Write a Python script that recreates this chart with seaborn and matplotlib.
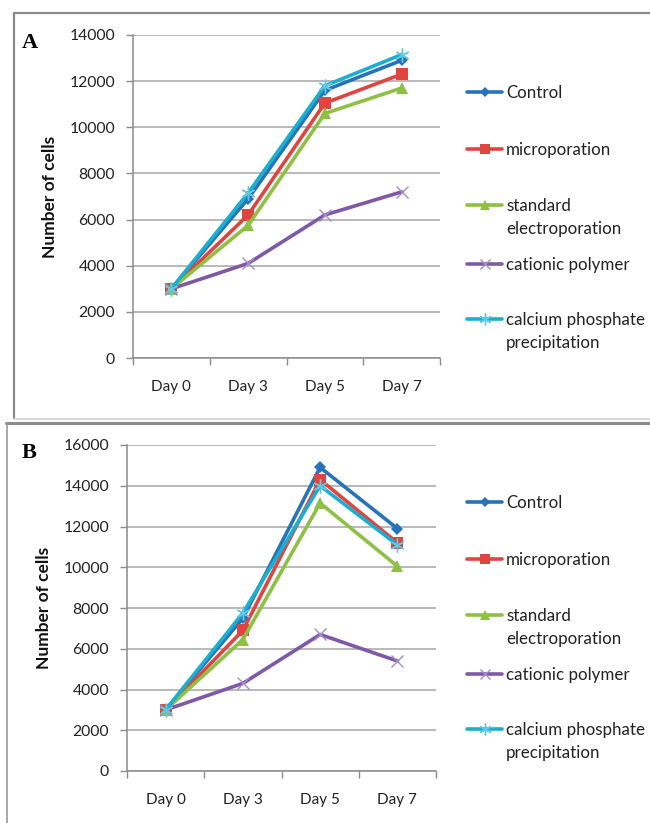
import numpy as np
import pandas as pd
import matplotlib
matplotlib.use("Agg")
import matplotlib.pyplot as plt
import seaborn as sns
from matplotlib.lines import Line2D

# ---------------- data ----------------
days = ["Day 0", "Day 3", "Day 5", "Day 7"]
groups = ["Control", "microporation", "standard\nelectroporation",
          "cationic polymer", "calcium phosphate\nprecipitation"]

a_control = [3000, 6900, 11600, 12900]
a_micro = [3000, 6200, 11050, 12300]
a_standard = [3000, 5750, 10600, 11700]
a_cationic = [3000, 4100, 6200, 7200]
a_calcium = [3000, 7150, 11800, 13150]

b_control = [3000, 7500, 14900, 11900]
b_micro = [3000, 6900, 14300, 11200]
b_standard = [3000, 6450, 13150, 10050]
b_cationic = [3000, 4300, 6700, 5400]
b_calcium = [3000, 7750, 14000, 11100]

a_ticks = [0, 2000, 4000, 6000, 8000, 10000, 12000, 14000]
b_ticks = [0, 2000, 4000, 6000, 8000, 10000, 12000, 14000, 16000]

# ---------------- style ----------------
sns.set_theme(style="white")
plt.rcParams["font.family"] = ["Lato", "DejaVu Sans"]

colors = ["#2673BA", "#E0443E", "#8DC044", "#7F58A8", "#1BAFCF"]
mcolors = ["#2673BA", "#E0443E", "#8DC044", "#A58CCB", "#62C9E3"]
markers = ["D", "s", "^", "x", (6, 2, 0)]
msizes = [6.5, 8.0, 8.5, 8.5, 10.0]
mews = [0.0, 0.0, 0.0, 1.0, 1.0]

W, H = 650, 823
LINE_GAP = 23  # px between lines of a two-line legend label
fig = plt.figure(figsize=(W / 100, H / 100), dpi=100)


def fx(px):
    return px / W


def fy(py):
    return 1 - py / H


def make_df(series):
    rows = []
    for g, vals in zip(groups, series):
        for d, v in zip(days, vals):
            rows.append({"day": d, "cells": v, "group": g})
    return pd.DataFrame(rows)


def panel(rect, series, yticks, letter, top_px):
    ax = fig.add_axes(rect)
    df = make_df(series)
    for i, g in enumerate(groups):
        sub = df[df["group"] == g]
        sns.lineplot(data=sub, x="day", y="cells", ax=ax, color=colors[i],
                     linewidth=2.6, marker=markers[i], markersize=msizes[i],
                     markeredgewidth=mews[i], markerfacecolor=mcolors[i],
                     markeredgecolor=mcolors[i], errorbar=None, sort=False,
                     legend=False, zorder=3 + i)
    ax.set_xlim(-0.5, len(days) - 0.5)
    ax.set_ylim(yticks[0], yticks[-1])
    ax.set_yticks(yticks)
    ax.set_yticklabels([str(t) for t in yticks])
    ax.set_xticks(range(len(days)))
    ax.set_xticklabels(days)
    ax.set_xticks(np.arange(-0.5, len(days), 1.0), minor=True)
    ax.tick_params(axis="x", which="major", length=0, pad=16,
                   labelsize=11, colors="#222222")
    ax.tick_params(axis="x", which="minor", length=5, width=1,
                   color="#8c8c8c", direction="out", bottom=True)
    ax.tick_params(axis="y", which="major", length=5, width=1,
                   color="#8c8c8c", direction="out", left=True, pad=8,
                   labelsize=11.3, labelcolor="#222222")
    ax.grid(axis="y", color="#a6a6a6", linewidth=1.1)
    ax.set_axisbelow(True)
    for s in ["top", "right"]:
        ax.spines[s].set_visible(False)
    for s in ["left", "bottom"]:
        ax.spines[s].set_color("#8c8c8c")
        ax.spines[s].set_linewidth(1.1)
    ax.set_xlabel("")
    ax.set_ylabel("Number of cells", fontsize=12.5, fontweight="bold",
                  color="#111111", labelpad=8)

    # panel letter
    fig.text(fx(22), fy(top_px + 8), letter, fontsize=16, fontweight="bold",
             family=["Liberation Serif", "DejaVu Serif"], va="center",
             ha="left", color="black")

    # manual legend (Excel style: key aligned with first text line)
    leg_y = [57, 114, 170, 229, 284]
    for i, g in enumerate(groups):
        yy = fy(top_px + leg_y[i])
        ln = Line2D([fx(467), fx(485), fx(502)], [yy, yy, yy],
                    transform=fig.transFigure, color=colors[i],
                    linewidth=2.6, marker=markers[i],
                    markersize=msizes[i] * 0.85, markevery=[1],
                    markeredgewidth=mews[i], markerfacecolor=mcolors[i],
                    markeredgecolor=mcolors[i])
        fig.add_artist(ln)
        nl = g.count("\n")
        fig.text(fx(506), yy - (6 + nl * LINE_GAP) / H, g, fontsize=12.2,
                 color="#222222", va="baseline", ha="left",
                 linespacing=1.55, transform=fig.transFigure)
    return ax


axA = panel([fx(133), fy(358), fx(440) - fx(133), fy(35) - fy(358)],
            [a_control, a_micro, a_standard, a_cationic, a_calcium],
            a_ticks, "A", 35)
axB = panel([fx(127), fy(771), fx(436) - fx(127), fy(445) - fy(771)],
            [b_control, b_micro, b_standard, b_cationic, b_calcium],
            b_ticks, "B", 445)

# panel frames
frame = "#8a8a8a"
fig.add_artist(Line2D([fx(14), fx(651)], [fy(13), fy(13)],
                      transform=fig.transFigure, color=frame, lw=1.6))
fig.add_artist(Line2D([fx(14), fx(14)], [fy(13), fy(419)],
                      transform=fig.transFigure, color=frame, lw=1.6))
fig.add_artist(Line2D([fx(14), fx(651)], [fy(419), fy(419)],
                      transform=fig.transFigure, color="#d9d9d9", lw=1.4))
fig.add_artist(Line2D([fx(6), fx(651)], [fy(423), fy(423)],
                      transform=fig.transFigure, color=frame, lw=2.2))
fig.add_artist(Line2D([fx(7), fx(7)], [fy(423), fy(824)],
                      transform=fig.transFigure, color="#9a9a9a", lw=1.2))

fig.savefig("out.png", dpi=100)
